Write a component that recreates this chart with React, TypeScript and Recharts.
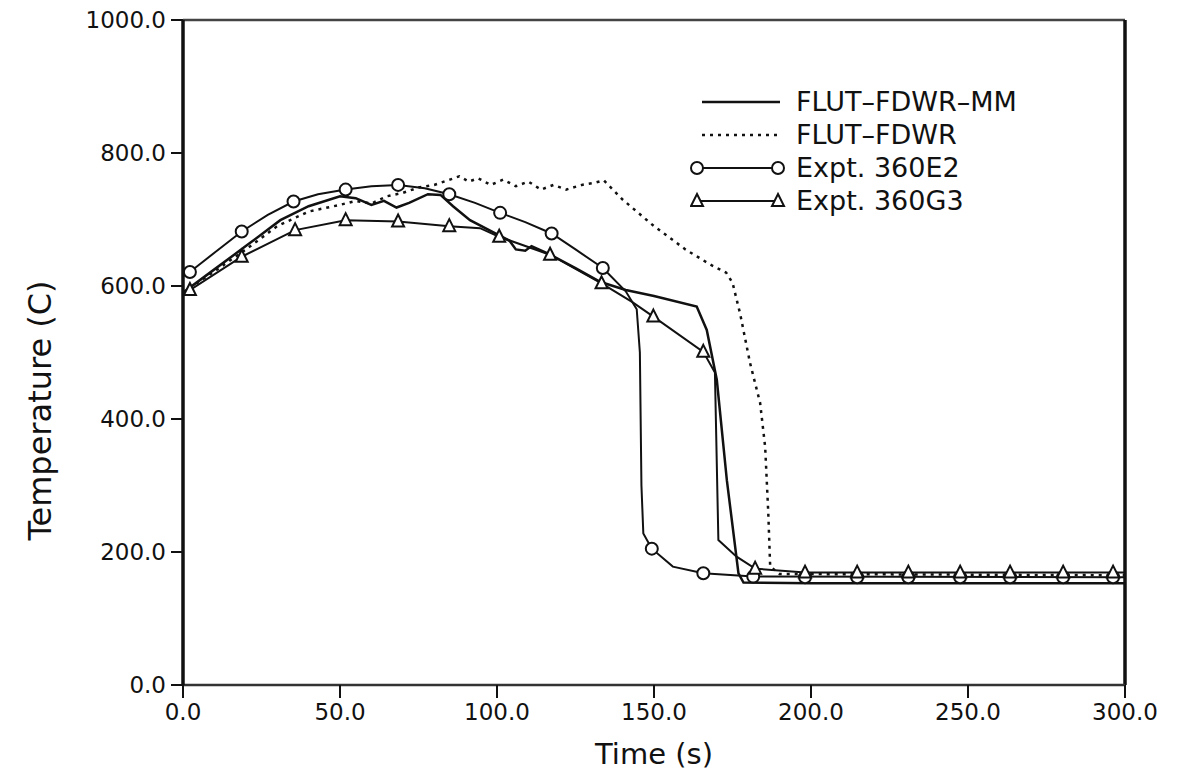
import { ComposedChart, Line, Scatter, XAxis, YAxis, ReferenceLine } from 'recharts';

// FLUT-FDWR-MM (solid)
const mmTime = [0, 10, 20, 31, 40, 50, 55, 60, 64, 68, 72, 78, 82, 86, 91.4, 100.7, 104, 106, 109, 111, 117, 125, 133, 141, 150, 163.6, 166.8, 170, 173.2, 176.9, 178.5, 200, 300];
const mmTemp = [590, 625, 660, 699, 720, 735, 732, 722, 728, 718, 725, 738, 737, 720, 699, 676, 668, 655, 653, 660, 647, 627, 606, 594, 585, 569, 534, 459, 308, 168, 154, 153, 153];

// FLUT-FDWR (dotted)
const fdwrTime = [0, 10, 20, 30, 40, 50, 55, 60, 65, 70, 75, 80, 85, 88, 91, 94, 98, 102, 106, 110, 114, 118, 122, 127, 131, 134, 140, 150, 160, 168, 173, 175, 177.4, 180.6, 183.8, 185.4, 186.4, 187, 190, 300];
const fdwrTemp = [590, 622, 655, 690, 712, 722, 728, 724, 735, 740, 748, 752, 760, 765, 757, 762, 752, 760, 750, 757, 745, 752, 745, 752, 755, 759, 730, 690, 655, 632, 620, 605, 559, 484, 424, 358, 258, 178, 167, 165];

// Expt. 360E2 (circles)
const e2Time = [0, 2.2, 10, 18.7, 27, 35.2, 43, 51.8, 60, 68.5, 77, 84.8, 93, 101, 109, 117.4, 125, 133.7, 141, 144.5, 145.5, 146, 146.6, 149.3, 156, 165.7, 181.6, 300];
const e2Temp = [615, 621, 650, 682, 707, 727, 738, 745, 750, 752, 747, 738, 725, 710, 696, 679, 655, 627, 592, 565, 500, 300, 228, 205, 178, 168, 163, 162];
const e2MarkTime = [2.2, 18.7, 35.2, 51.8, 68.5, 84.8, 101, 117.4, 133.7, 149.3, 165.7, 181.6, 198.1, 214.7, 231, 247.5, 263.4, 280.3, 296.2];
const e2MarkTemp = [621, 682, 727, 745, 752, 738, 710, 679, 627, 205, 168, 163, 162, 162, 162, 162, 162, 162, 162];

// Expt. 360G3 (triangles)
const g3Time = [0, 2.2, 18.7, 35.7, 51.8, 68.5, 84.8, 94.6, 100.7, 116.9, 133.3, 143, 149.8, 165.7, 169.4, 170.5, 176.3, 182.2, 198.1, 300];
const g3Temp = [590, 594, 644, 684, 699, 697, 690, 687, 674, 647, 604, 576, 554, 501, 470, 218, 193, 175, 169, 169];
const g3MarkTime = [2.2, 18.7, 35.7, 51.8, 68.5, 84.8, 100.7, 116.9, 133.3, 149.8, 165.7, 182.2, 198.1, 214.7, 231, 247.5, 263.4, 280.3, 296.2];
const g3MarkTemp = [594, 644, 684, 699, 697, 690, 674, 647, 604, 554, 501, 175, 169, 169, 169, 169, 169, 169, 169];

const xTicks = [0, 50, 100, 150, 200, 250, 300];
const yTicks = [0, 200, 400, 600, 800, 1000];

const legendNames = ['FLUT–FDWR–MM', 'FLUT–FDWR', 'Expt. 360E2', 'Expt. 360G3'];

const zip = (xs: number[], ys: number[]) => xs.map((t, i) => ({ t, v: ys[i] }));

const mmData = zip(mmTime, mmTemp);
const fdwrData = zip(fdwrTime, fdwrTemp);
const e2Data = zip(e2Time, e2Temp);
const e2Marks = zip(e2MarkTime, e2MarkTemp);
const g3Data = zip(g3Time, g3Temp);
const g3Marks = zip(g3MarkTime, g3MarkTemp);

const FONT = '"DejaVu Sans", sans-serif';

const CircleMark = (props: any) => (
  <circle cx={props.cx} cy={props.cy} r={6} fill="#fff" stroke="#111" strokeWidth={2} />
);

const TriMark = (props: any) => {
  const { cx, cy } = props;
  return (
    <path
      d={`M${cx},${cy - 7} L${cx + 6},${cy + 5} L${cx - 6},${cy + 5} Z`}
      fill="#fff"
      stroke="#111"
      strokeWidth={2}
    />
  );
};

// y axis title, sits a bit below the middle of the plot like the original
const TempLabel = (props: any) => {
  const vb = props.viewBox || {};
  const x = vb.x + 30;
  const y = vb.y + vb.height / 2 + 58;
  return (
    <text
      x={x}
      y={y}
      transform={`rotate(-90, ${x}, ${y})`}
      textAnchor="middle"
      dominantBaseline="central"
      fontSize={32}
      fontFamily={FONT}
      fill="#111"
    >
      Temperature (C)
    </text>
  );
};

function LegendBox() {
  const rowH = 33;
  return (
    <div style={{ position: 'absolute', left: 690, top: 85, fontFamily: FONT, fontSize: 27, color: '#111' }}>
      {legendNames.map((name, i) => (
        <div key={name} style={{ display: 'flex', alignItems: 'center', height: rowH }}>
          <svg width={100} height={rowH}>
            {i === 0 && <line x1={12} x2={90} y1={17} y2={17} stroke="#111" strokeWidth={2.5} />}
            {i === 1 && <line x1={12} x2={90} y1={17} y2={17} stroke="#111" strokeWidth={2.5} strokeDasharray="3 5" />}
            {i === 2 && (
              <g>
                <line x1={7} x2={88} y1={17} y2={17} stroke="#111" strokeWidth={2} />
                <CircleMark cx={7} cy={17} />
                <CircleMark cx={88} cy={17} />
              </g>
            )}
            {i === 3 && (
              <g>
                <line x1={7} x2={88} y1={17} y2={17} stroke="#111" strokeWidth={2} />
                <TriMark cx={7} cy={17} />
                <TriMark cx={88} cy={17} />
              </g>
            )}
          </svg>
          <span style={{ marginLeft: 6, whiteSpace: 'nowrap' }}>{name}</span>
        </div>
      ))}
    </div>
  );
}

export default function App() {
  const tickStyle = { fill: '#111', fontSize: 23, fontFamily: FONT };
  return (
    <div style={{ position: 'absolute', left: 0, top: 0, width: 1179, height: 776, background: '#fff' }}>
      <ComposedChart width={1179} height={776} margin={{ top: 20, right: 54, bottom: 0, left: 10 }}>
        <XAxis
          type="number"
          dataKey="t"
          domain={[0, 300]}
          ticks={xTicks}
          tickFormatter={(v: number) => v.toFixed(1)}
          allowDataOverflow
          height={91}
          tickSize={13}
          tickMargin={6}
          tick={tickStyle}
          axisLine={{ stroke: '#333', strokeWidth: 2.5 }}
          tickLine={{ stroke: '#111', strokeWidth: 2 }}
          label={{ value: 'Time (s)', position: 'insideBottom', offset: 12, style: { fontSize: 29, fontFamily: FONT, fill: '#111' } }}
        />
        <YAxis
          type="number"
          dataKey="v"
          domain={[0, 1000]}
          ticks={yTicks}
          tickFormatter={(v: number) => v.toFixed(1)}
          width={173}
          tickSize={12}
          tickMargin={5}
          tick={tickStyle}
          axisLine={{ stroke: '#111', strokeWidth: 3.5 }}
          tickLine={{ stroke: '#111', strokeWidth: 2 }}
          label={<TempLabel />}
        />
        <ReferenceLine y={1000} stroke="#444" strokeWidth={2.5} />
        <ReferenceLine x={300} stroke="#111" strokeWidth={3.5} />
        <Line data={fdwrData} dataKey="v" type="linear" stroke="#111" strokeWidth={2.5} strokeDasharray="3 5" dot={false} isAnimationActive={false} />
        <Line data={mmData} dataKey="v" type="linear" stroke="#111" strokeWidth={2.5} dot={false} isAnimationActive={false} />
        <Line data={e2Data} dataKey="v" type="linear" stroke="#111" strokeWidth={2} dot={false} isAnimationActive={false} />
        <Line data={g3Data} dataKey="v" type="linear" stroke="#111" strokeWidth={2} dot={false} isAnimationActive={false} />
        <Scatter data={e2Marks} dataKey="v" shape={<CircleMark />} isAnimationActive={false} />
        <Scatter data={g3Marks} dataKey="v" shape={<TriMark />} isAnimationActive={false} />
      </ComposedChart>
      <LegendBox />
    </div>
  );
}
